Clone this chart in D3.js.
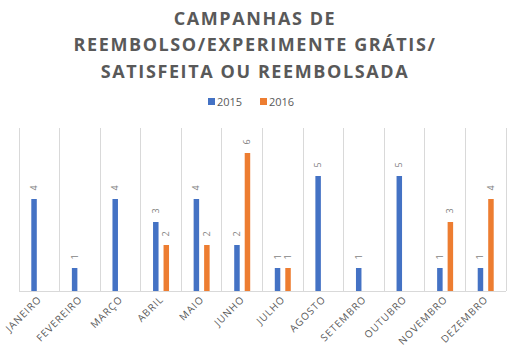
<!DOCTYPE html>
<html><head><meta charset="utf-8">
<script src="https://cdn.jsdelivr.net/npm/d3@7"></script>
<style>body{margin:0;background:#fff}svg{display:block}</style>
</head><body>
<script>
const titleLines = ["CAMPANHAS DE", "REEMBOLSO/EXPERIMENTE GRÁTIS/", "SATISFEITA OU REEMBOLSADA"];
const categories = ["JANEIRO","FEVEREIRO","MARÇO","ABRIL","MAIO","JUNHO","JULHO","AGOSTO","SETEMBRO","OUTUBRO","NOVEMBRO","DEZEMBRO"];
const seriesNames = ["2015","2016"];
const values2015 = [4,1,4,3,4,2,1,5,1,5,1,1];
const values2016 = [null,null,null,2,2,6,1,null,null,null,3,4];
const colors = ["#4472C4","#ED7D31"];

const W=515,H=356;
const svg=d3.select("body").append("svg").attr("width",W).attr("height",H);
const font="'Open Sans', 'Segoe UI', sans-serif";
const grey="#595959";

// title
svg.append("g").selectAll("text").data(titleLines).join("text")
  .attr("x",255).attr("y",(d,i)=>24.5+i*26.5)
  .attr("text-anchor","middle").attr("font-family",font).attr("font-weight",700)
  .attr("font-size",18).attr("letter-spacing",1.6).attr("fill",grey).text(d=>d);

// legend
const leg=svg.append("g").attr("font-family",font).attr("font-size",11).attr("fill",grey);
const legX=[208,260];
seriesNames.forEach((s,i)=>{
  leg.append("rect").attr("x",legX[i]).attr("y",98).attr("width",7).attr("height",7).attr("fill",colors[i]);
  leg.append("text").attr("x",legX[i]+9).attr("y",106).text(s);
});

const x0=d3.scaleBand().domain(categories).range([19,506]).padding(0);
const bw=x0.bandwidth();
const x1=d3.scaleBand().domain(seriesNames).range([bw*0.303,bw*0.697]).paddingInner(0.476).paddingOuter(0);
const y=d3.scaleLinear().domain([0,7]).range([291,130]);

// vertical gridlines at category boundaries
const bounds=categories.map(c=>x0(c)).concat([x0(categories[categories.length-1])+bw]);
svg.append("g").selectAll("line").data(bounds).join("line")
  .attr("x1",d=>d).attr("x2",d=>d).attr("y1",128).attr("y2",291)
  .attr("stroke","#d9d9d9").attr("stroke-width",1).attr("shape-rendering","crispEdges");

// baseline
svg.append("line").attr("x1",19).attr("x2",506).attr("y1",291).attr("y2",291)
  .attr("stroke","#d9d9d9").attr("shape-rendering","crispEdges");

const data=[];
categories.forEach((c,i)=>{
  [values2015[i],values2016[i]].forEach((v,j)=>{ if(v!=null) data.push({c,s:seriesNames[j],v,j}); });
});

svg.append("g").selectAll("rect").data(data).join("rect")
  .attr("x",d=>x0(d.c)+x1(d.s)).attr("width",x1.bandwidth())
  .attr("y",d=>y(d.v)).attr("height",d=>y(0)-y(d.v)).attr("fill",d=>colors[d.j]);

svg.append("g").selectAll("text").data(data).join("text")
  .attr("transform",d=>`translate(${x0(d.c)+x1(d.s)+x1.bandwidth()/2+3},${y(d.v)-11}) rotate(-90)`)
  .attr("text-anchor","middle").attr("font-family",font).attr("font-size",9).attr("fill","#7f7f7f")
  .text(d=>d.v);

// x labels
svg.append("g").selectAll("text").data(categories).join("text")
  .attr("transform",c=>`translate(${x0(c)+bw/2+3},${300}) rotate(-45)`)
  .attr("text-anchor","end").attr("font-family",font).attr("font-size",10)
  .attr("letter-spacing",1).attr("fill",grey).text(c=>c);
</script>
</body></html>
